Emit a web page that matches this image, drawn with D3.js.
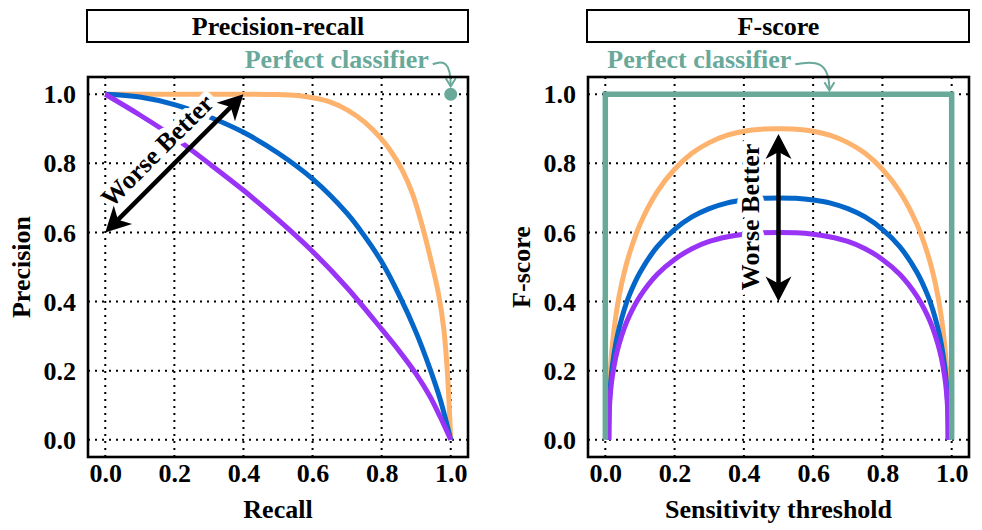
<!DOCTYPE html>
<html><head><meta charset="utf-8">
<script src="https://cdn.jsdelivr.net/npm/d3@7"></script>
<style>body{margin:0;background:#fff}</style>
</head><body>
<svg id="c" width="982" height="530"></svg>
<script>
// ---------- data ----------
const tickValues = [0, 0.2, 0.4, 0.6, 0.8, 1.0];
const tickLabels = ["0.0", "0.2", "0.4", "0.6", "0.8", "1.0"];
const panelTitles = ["Precision-recall", "F-score"];
const xTitles = ["Recall", "Sensitivity threshold"];
const yTitles = ["Precision", "F-score"];

// Precision-recall curves
const prRecallOrange    = [0, 0.2, 0.4, 0.5, 0.55, 0.6, 0.65, 0.7, 0.75, 0.8, 0.83, 0.86, 0.89, 0.92, 0.945, 0.965, 0.98, 0.99, 1.0];
const prPrecisionOrange = [1, 1, 1, 0.999, 0.997, 0.99, 0.978, 0.955, 0.92, 0.87, 0.83, 0.78, 0.71, 0.61, 0.51, 0.42, 0.32, 0.2, 0];
const prRecallBlue      = [0, 0.1, 0.2, 0.3, 0.4, 0.5, 0.6, 0.7, 0.75, 0.8, 0.85, 0.9, 0.94, 0.97, 1.0];
const prPrecisionBlue   = [1, 0.992, 0.97, 0.935, 0.89, 0.83, 0.755, 0.655, 0.59, 0.515, 0.42, 0.31, 0.205, 0.115, 0];
const prRecallPurple    = [0, 0.1, 0.2, 0.3, 0.4, 0.5, 0.6, 0.7, 0.8, 0.85, 0.9, 0.94, 0.97, 1.0];
const prPrecisionPurple = [1, 0.94, 0.875, 0.8, 0.722, 0.637, 0.545, 0.44, 0.32, 0.258, 0.19, 0.125, 0.065, 0];
const prPerfectRecall = [1.0];
const prPerfectPrecision = [1.0];

// F-score curves
const fsThreshold = [0.01, 0.011, 0.013, 0.016, 0.02, 0.03, 0.04, 0.055, 0.07, 0.1, 0.15, 0.2, 0.25, 0.3, 0.35, 0.4, 0.45, 0.5,
                     0.55, 0.6, 0.65, 0.7, 0.75, 0.8, 0.85, 0.9, 0.93, 0.945, 0.96, 0.97, 0.98, 0.984, 0.987, 0.989, 0.99];
const fsOrange = [0, 0.108, 0.168, 0.222, 0.272, 0.356, 0.417, 0.486, 0.54, 0.623, 0.718, 0.783, 0.829, 0.86, 0.881, 0.893, 0.899, 0.9,
                  0.899, 0.893, 0.881, 0.86, 0.829, 0.783, 0.718, 0.623, 0.54, 0.486, 0.417, 0.356, 0.272, 0.222, 0.168, 0.108, 0];
const fsBlue   = [0, 0.084, 0.131, 0.173, 0.211, 0.277, 0.324, 0.378, 0.42, 0.484, 0.559, 0.609, 0.645, 0.669, 0.685, 0.694, 0.699, 0.7,
                  0.699, 0.694, 0.685, 0.669, 0.645, 0.609, 0.559, 0.484, 0.42, 0.378, 0.324, 0.277, 0.211, 0.173, 0.131, 0.084, 0];
const fsPurple = [0, 0.072, 0.112, 0.148, 0.181, 0.238, 0.278, 0.324, 0.36, 0.415, 0.479, 0.522, 0.553, 0.574, 0.587, 0.595, 0.599, 0.6,
                  0.599, 0.595, 0.587, 0.574, 0.553, 0.522, 0.479, 0.415, 0.36, 0.324, 0.278, 0.238, 0.181, 0.148, 0.112, 0.072, 0];
const fsPerfectThreshold = [0, 0, 1, 1];
const fsPerfectScore     = [0, 1, 1, 0];

// annotations (data coordinates)
const annotationText = "Worse Better";
const perfectText = "Perfect classifier";
const prArrowFrom = [0.0, 0.6], prArrowTo = [0.4, 1.0];
const fsArrowFrom = [0.5, 0.4], fsArrowTo = [0.5, 0.885];
const fsPerfectAnnotAt = [0.647, 1.0];

// ---------- style ----------
const C = {orange: "#fdb36d", blue: "#0366c8", purple: "#9933f5", teal: "#69a99a"};
const FONT = "'Liberation Serif','Times New Roman',Times,serif";
const FS = 26;

const svg = d3.select("#c");
const panels = [{x0: 88, x1: 468}, {x0: 588, x1: 969}];
const Y0 = 77, Y1 = 457;

function makeScales(i) {
  const p = panels[i];
  return {
    x: d3.scaleLinear().domain([-0.05, 1.05]).range([p.x0, p.x1]),
    y: d3.scaleLinear().domain([-0.05, 1.05]).range([Y1, Y0])
  };
}

function drawFrame(i, g, s) {
  const p = panels[i];
  g.append("rect").attr("x", p.x0 - 1).attr("y", 10).attr("width", p.x1 - p.x0 + 1).attr("height", 32)
    .attr("fill", "#fff").attr("stroke", "#000").attr("stroke-width", 2);
  g.append("text").attr("x", (p.x0 + p.x1) / 2).attr("y", 34.5).attr("text-anchor", "middle")
    .attr("font-family", FONT).attr("font-weight", "bold").attr("font-size", FS).text(panelTitles[i]);
  const grid = g.append("g").attr("stroke", "#000").attr("stroke-width", 2).attr("stroke-dasharray", "2,5");
  tickValues.forEach(v => {
    grid.append("line").attr("x1", s.x(v)).attr("x2", s.x(v)).attr("y1", Y1).attr("y2", Y0);
    grid.append("line").attr("x1", p.x0).attr("x2", p.x1).attr("y1", s.y(v)).attr("y2", s.y(v));
  });
  const xa = d3.axisBottom(s.x).tickValues(tickValues).tickFormat((d, k) => tickLabels[k]).tickSize(0).tickPadding(0);
  const gx = g.append("g").attr("transform", `translate(0,${Y1})`).call(xa);
  gx.select(".domain").remove();
  gx.selectAll("text").attr("font-family", FONT).attr("font-weight", "bold").attr("font-size", FS)
    .attr("fill", "#000").attr("y", 25).attr("dy", 0);
  const ya = d3.axisLeft(s.y).tickValues(tickValues).tickFormat((d, k) => tickLabels[k]).tickSize(0).tickPadding(0);
  const gy = g.append("g").attr("transform", `translate(${p.x0},0)`).call(ya);
  gy.select(".domain").remove();
  gy.selectAll("text").attr("font-family", FONT).attr("font-weight", "bold").attr("font-size", FS)
    .attr("fill", "#000").attr("x", -12).attr("dy", "0.33em");
  g.append("text").attr("x", (p.x0 + p.x1) / 2).attr("y", 518).attr("text-anchor", "middle")
    .attr("font-family", FONT).attr("font-weight", "bold").attr("font-size", FS).text(xTitles[i]);
  g.append("text").attr("transform", `translate(${p.x0 - 58},${(Y0 + Y1) / 2}) rotate(-90)`).attr("text-anchor", "middle")
    .attr("font-family", FONT).attr("font-weight", "bold").attr("font-size", FS).text(yTitles[i]);
}

function drawOuter(i, g) {
  const p = panels[i];
  g.append("rect").attr("x", p.x0).attr("y", Y0).attr("width", p.x1 - p.x0).attr("height", Y1 - Y0)
    .attr("fill", "none").attr("stroke", "#000").attr("stroke-width", 2.6);
}

function drawLine(g, s, xs, ys, color, w, curve) {
  const pts = xs.map((v, k) => [v, ys[k]]);
  g.append("path").datum(pts)
    .attr("d", d3.line().x(d => s.x(d[0])).y(d => s.y(d[1])).curve(curve || d3.curveCatmullRom.alpha(0.5)))
    .attr("fill", "none").attr("stroke", color).attr("stroke-width", w)
    .attr("stroke-linejoin", "miter").attr("stroke-linecap", "butt");
}

function drawDoubleArrow(g, s, a, b) {
  const x1 = s.x(a[0]), y1 = s.y(a[1]), x2 = s.x(b[0]), y2 = s.y(b[1]);
  const ang = Math.atan2(y2 - y1, x2 - x1);
  const ux = Math.cos(ang), uy = Math.sin(ang);
  g.append("line").attr("x1", x1 + ux * 16).attr("y1", y1 + uy * 16).attr("x2", x2 - ux * 16).attr("y2", y2 - uy * 16)
    .attr("stroke", "#000").attr("stroke-width", 4.5);
  const head = "M0,0 L-25,-13 L-18,0 L-25,13 Z";
  g.append("path").attr("d", head).attr("fill", "#000")
    .attr("transform", `translate(${x2},${y2}) rotate(${ang * 180 / Math.PI})`);
  g.append("path").attr("d", head).attr("fill", "#000")
    .attr("transform", `translate(${x1},${y1}) rotate(${ang * 180 / Math.PI + 180})`);
}

function haloText(g, transform, x, y, txt) {
  g.append("text").attr("transform", transform).attr("x", x).attr("y", y).attr("text-anchor", "middle")
    .attr("font-family", FONT).attr("font-weight", "bold").attr("font-size", FS)
    .attr("fill", "#000").attr("stroke", "#fff").attr("stroke-width", 10).attr("stroke-linejoin", "round")
    .attr("paint-order", "stroke").text(txt);
}

function curvedPointer(g, sx, sy, tx, ty) {
  g.append("path").attr("d", `M${sx},${sy} C${sx + (tx - sx) * 0.6},${sy - 4} ${tx},${sy - 3} ${tx},${ty}`)
    .attr("fill", "none").attr("stroke", C.teal).attr("stroke-width", 2);
  g.append("path").attr("d", `M${tx - 5},${ty - 8} L${tx},${ty} L${tx + 5},${ty - 8}`)
    .attr("fill", "none").attr("stroke", C.teal).attr("stroke-width", 2);
}

// ---------- Panel 1: Precision-recall ----------
{
  const s = makeScales(0);
  const g = svg.append("g");
  drawFrame(0, g, s);
  drawLine(g, s, prRecallOrange, prPrecisionOrange, C.orange, 5);
  drawLine(g, s, prRecallBlue, prPrecisionBlue, C.blue, 5);
  drawLine(g, s, prRecallPurple, prPrecisionPurple, C.purple, 5);
  g.selectAll("circle.perfect").data(prPerfectRecall).enter().append("circle")
    .attr("cx", (d) => s.x(d)).attr("cy", (d, k) => s.y(prPerfectPrecision[k])).attr("r", 6.5).attr("fill", C.teal);
  const mx = s.x((prArrowFrom[0] + prArrowTo[0]) / 2), my = s.y((prArrowFrom[1] + prArrowTo[1]) / 2);
  haloText(g, `translate(${mx},${my}) rotate(-45)`, -3, -12.5, annotationText);
  drawDoubleArrow(g, s, prArrowFrom, prArrowTo);
  const px = s.x(prPerfectRecall[0]), py = s.y(prPerfectPrecision[0]);
  g.append("text").attr("x", px - 22).attr("y", py - 26).attr("text-anchor", "end")
    .attr("font-family", FONT).attr("font-weight", "bold").attr("font-size", FS).attr("fill", C.teal).text(perfectText);
  curvedPointer(g, px - 18, py - 30, px, py - 8);
  drawOuter(0, g);
}

// ---------- Panel 2: F-score ----------
{
  const s = makeScales(1);
  const g = svg.append("g");
  drawFrame(1, g, s);
  drawLine(g, s, fsThreshold, fsOrange, C.orange, 5);
  drawLine(g, s, fsThreshold, fsBlue, C.blue, 5);
  drawLine(g, s, fsThreshold, fsPurple, C.purple, 5);
  haloText(g, `translate(${s.x(0.5)},${s.y(0.645)}) rotate(-90)`, 0, -20, annotationText);
  drawLine(g, s, fsPerfectThreshold, fsPerfectScore, C.teal, 5.5, d3.curveLinear);
  drawDoubleArrow(g, s, fsArrowFrom, fsArrowTo);
  g.append("text").attr("x", s.x(0) + 2).attr("y", s.y(1) - 26).attr("text-anchor", "start")
    .attr("font-family", FONT).attr("font-weight", "bold").attr("font-size", FS).attr("fill", C.teal).text(perfectText);
  curvedPointer(g, s.x(0) + 190, s.y(1) - 30, s.x(fsPerfectAnnotAt[0]), s.y(fsPerfectAnnotAt[1]) - 4);
  drawOuter(1, g);
}
</script>
</body></html>
